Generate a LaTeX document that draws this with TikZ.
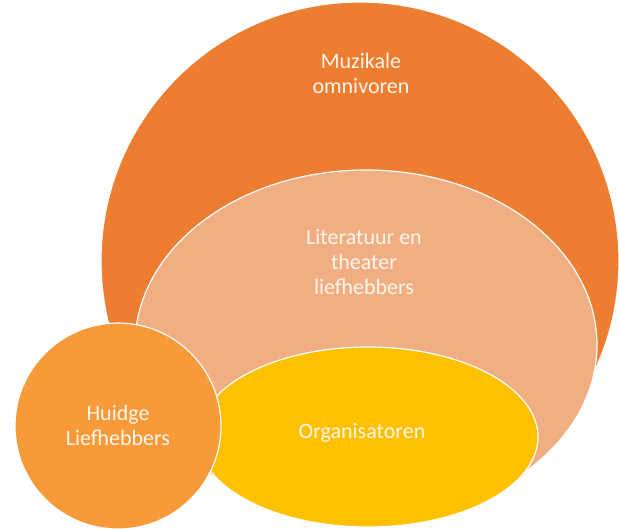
\documentclass[tikz,border=0pt]{standalone}
\usepackage{fontspec}
\setmainfont{Carlito}
\usetikzlibrary{shapes.geometric}
\definecolor{bigorange}{HTML}{ED7D31}
\definecolor{peach}{HTML}{F2AE83}
\definecolor{gold}{HTML}{FFC000}
\definecolor{lightorange}{HTML}{F8993A}
\definecolor{labelcol}{HTML}{FFF6EC}
\tikzset{
  blob/.style={draw=white, line width=1.2pt, inner sep=0pt, outer sep=0pt},
  roundblob/.style={blob, circle},
  ovalblob/.style={blob, ellipse},
  lbl/.style={text=labelcol, align=center, inner sep=0pt,
    font=\fontsize{22}{25}\selectfont}
}
\begin{document}
\begin{tikzpicture}[x=1pt,y=-1pt]
\useasboundingbox (0,0) rectangle (619,528);
\node[roundblob, fill=bigorange, minimum size=518pt] (big) at (360,261) {};
\node[ovalblob, fill=peach, minimum width=462pt, minimum height=350pt] (lit) at (366,345) {};
\node[ovalblob, fill=gold, minimum width=340pt, minimum height=180pt] (org) at (368,437) {};
\node[roundblob, fill=lightorange, minimum size=206pt] (huid) at (118,426) {};
\node[lbl] (tbig) at (361,73) {Muzikale\\omnivoren};
\node[lbl] (tlit) at (364,262) {Literatuur en\\theater\\liefhebbers};
\node[lbl] (torg) at (362,433) {Organisatoren};
\node[lbl] (thuid) at (118,425) {Huidge\\Liefhebbers};
\end{tikzpicture}
\end{document}
